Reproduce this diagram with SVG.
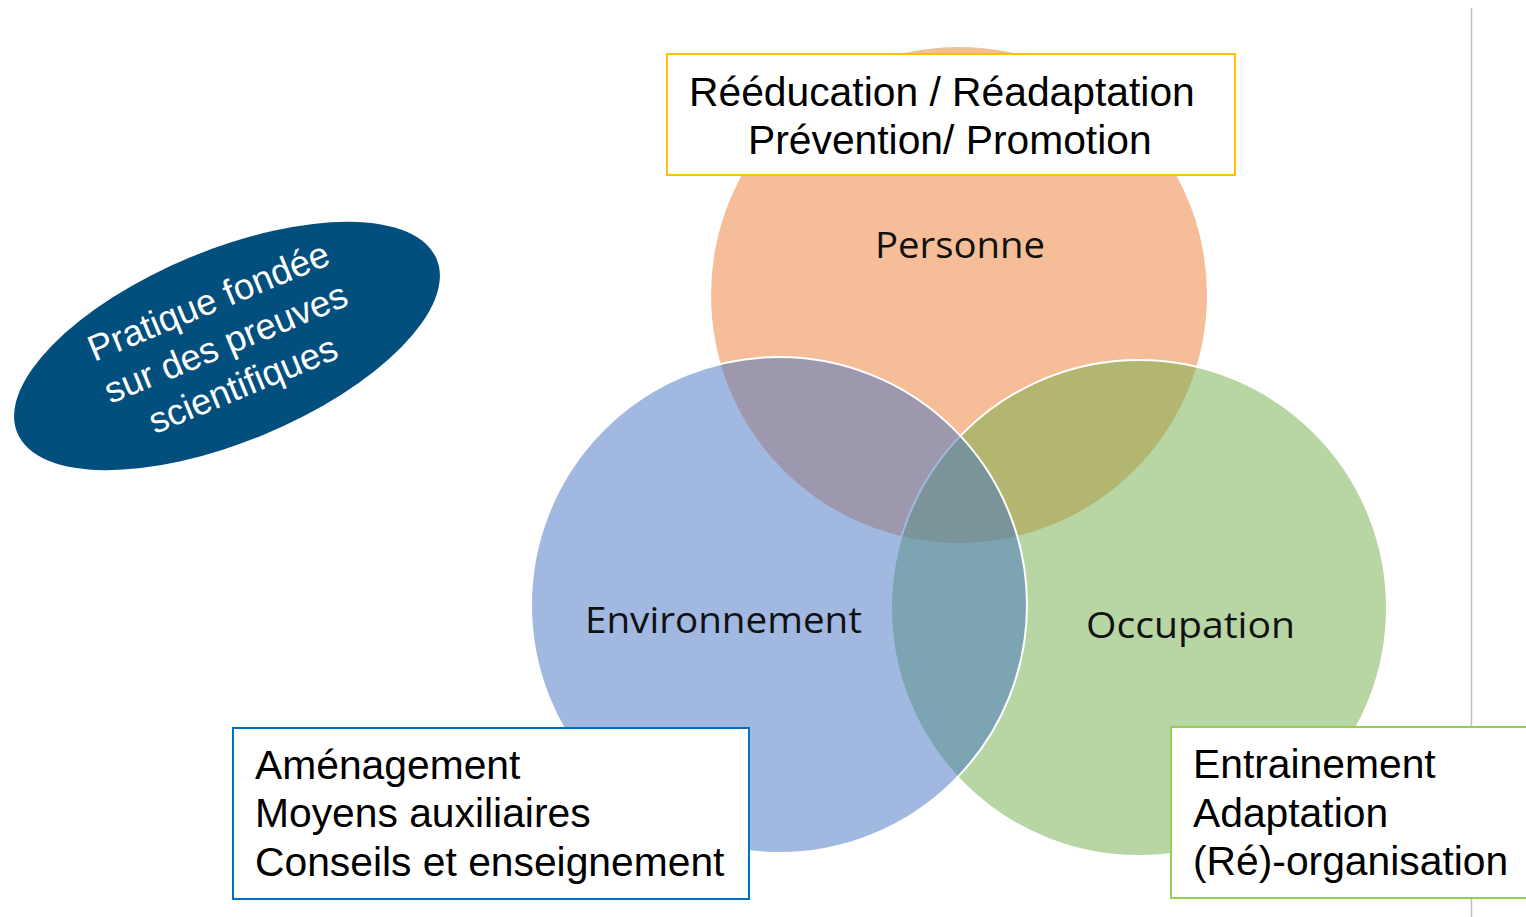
<svg xmlns="http://www.w3.org/2000/svg" width="1526" height="917" viewBox="0 0 1526 917">
  <style>
    .venn { fill-opacity: 0.5; }
    .rim { stroke: #FFFFFF; stroke-width: 2; }
    .lbl { font-family: "Open Sans", "Noto Sans", sans-serif; font-size: 37px; fill: #111111; }
    .box { fill: #FFFFFF; stroke-width: 2; }
    .btxt { font-family: "Liberation Sans", Arial, sans-serif; font-size: 40.8px; fill: #000000; }
    .etxt { font-family: "Liberation Sans", Arial, sans-serif; font-size: 36.5px; fill: #FFFFFF; text-anchor: middle; }
  </style>
  <rect x="0" y="0" width="1526" height="917" fill="#FFFFFF"/>
  <line x1="1471.5" y1="8" x2="1471.5" y2="917" stroke="#BFBFBF" stroke-width="1.5"/>

  <g id="circle-personne">
    <circle class="venn" cx="959" cy="295" r="248" fill="#ED7D31"/>
  </g>
  <g id="circle-occupation">
    <circle class="venn rim" cx="1139" cy="608" r="248" fill="#70AD47"/>
  </g>
  <g id="circle-environnement">
    <circle class="venn rim" cx="779" cy="605" r="248" fill="#4472C4"/>
  </g>

  <g id="labels">
    <text class="lbl" x="875" y="258" textLength="170" lengthAdjust="spacingAndGlyphs">Personne</text>
    <text class="lbl" x="585" y="633" textLength="277" lengthAdjust="spacingAndGlyphs">Environnement</text>
    <text class="lbl" x="1086" y="638" textLength="209" lengthAdjust="spacingAndGlyphs">Occupation</text>
  </g>

  <g id="box-top">
    <rect class="box" x="667" y="54" width="568" height="121" stroke="#FFC000"/>
    <text class="btxt" x="689" y="106">Rééducation / Réadaptation</text>
    <text class="btxt" x="748" y="154">Prévention/ Promotion</text>
  </g>

  <g id="box-left">
    <rect class="box" x="233" y="728" width="516" height="171" stroke="#0070C0"/>
    <text class="btxt" x="255" y="779">Aménagement</text>
    <text class="btxt" x="255" y="827">Moyens auxiliaires</text>
    <text class="btxt" x="255" y="876">Conseils et enseignement</text>
  </g>

  <g id="box-right">
    <rect class="box" x="1171" y="727" width="360" height="171" stroke="#92D050"/>
    <text class="btxt" x="1193" y="778">Entrainement</text>
    <text class="btxt" x="1193" y="827">Adaptation</text>
    <text class="btxt" x="1193" y="875">(Ré)-organisation</text>
  </g>

  <g id="ellipse-pratique" transform="translate(227 346) rotate(-22.5)">
    <ellipse cx="0" cy="0" rx="227" ry="96" fill="#024F7E"/>
    <text class="etxt" x="0" y="-36">Pratique fondée</text>
    <text class="etxt" x="0" y="9">sur des preuves</text>
    <text class="etxt" x="0" y="54">scientifiques</text>
  </g>

  <g id="connectors"/>
</svg>
